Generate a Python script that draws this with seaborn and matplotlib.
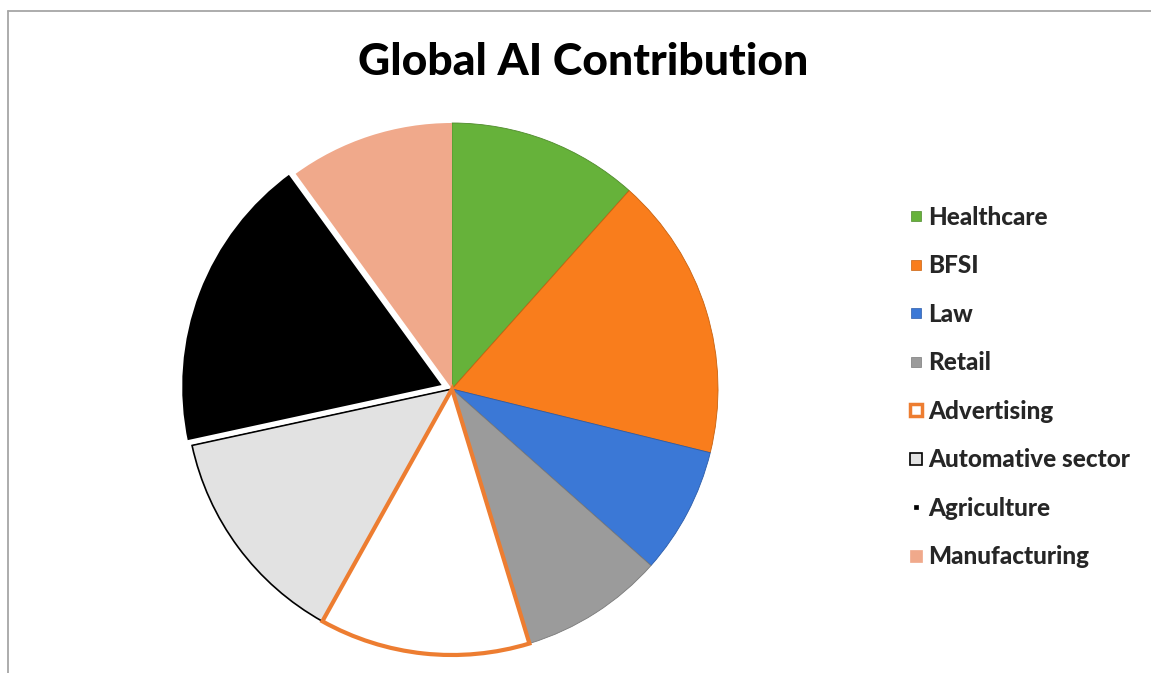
import numpy as np
import matplotlib.pyplot as plt
import seaborn as sns
from matplotlib.lines import Line2D

# Data
sectors = ["Healthcare", "BFSI", "Law", "Retail", "Advertising",
           "Automative sector", "Agriculture", "Manufacturing"]
shares = [11.6, 17.25, 7.7, 8.75, 12.8, 13.5, 18.4, 10.0]

sns.set_theme(style="white")
plt.rcParams['font.family'] = ['Lato', 'DejaVu Sans']

face = ["#66b23a", "#f97d1c", "#3b78d6", "#9b9b9b", "#ffffff",
        "#e2e2e2", "#000000", "#f0a98b"]
edge = ["#4f8a2c", "#c8620f", "#2c5ca8", "#7a7a7a", "#ed7d31",
        "#000000", "#ffffff", "#f0a98b"]
lw = [0.6, 0.6, 0.6, 0.6, 3.0, 1.2, 3.5, 0.0]
explode = [0, 0, 0, 0, 0, 0, 0.025, 0]

W, H = 1151, 673
fig = plt.figure(figsize=(W / 100, H / 100), dpi=100)

cx, cy, r = 452, 389, 266
ax = fig.add_axes([(cx - r) / W, (H - cy - r) / H, 2 * r / W, 2 * r / H])
wedges, _ = ax.pie(shares, colors=face, startangle=90, counterclock=False,
                   explode=explode, radius=1.0)
for w, e, l in zip(wedges, edge, lw):
    w.set_edgecolor(e)
    w.set_linewidth(l)
    w.set_clip_on(False)
# draw agriculture / advertising on top so their borders show
wedges[6].set_zorder(5)
wedges[4].set_zorder(4)
ax.set_xlim(-1.0, 1.0)
ax.set_ylim(-1.0, 1.0)
ax.set_aspect('equal')
ax.axis('off')

fig.text(583 / W, 1 - 62 / H, "Global AI Contribution", ha='center', va='center',
         fontsize=32, fontweight='black', color='black')

# legend
msize = [7.5, 7.5, 7.5, 7.5, 8.5, 8.5, 3.5, 8.5]
medge = ["#4f8a2c", "#c8620f", "#2c5ca8", "#7a7a7a", "#ed7d31", "#000000", "#000000", "#f0a98b"]
mew = [0.5, 0.5, 0.5, 0.5, 2.5, 1.2, 0.5, 0.5]
handles = [Line2D([], [], linestyle='none', marker='s', markersize=s,
                  markerfacecolor=f, markeredgecolor=e, markeredgewidth=m)
           for s, f, e, m in zip(msize, face, medge, mew)]
leg = fig.legend(handles, sectors, loc='center left', bbox_to_anchor=(886 / W, 1 - 387 / H),
                 frameon=False, handlelength=0.7, handletextpad=0.12,
                 labelspacing=1.05, prop={'weight': 'black', 'size': 17.5})

# chart area border (top and left)
fig.add_artist(Line2D([8 / W, 1], [1 - 11 / H, 1 - 11 / H], color='#a6a6a6', lw=1.3))
fig.add_artist(Line2D([8 / W, 8 / W], [0, 1 - 11 / H], color='#a6a6a6', lw=1.3))

fig.savefig("out.png", dpi=100)
